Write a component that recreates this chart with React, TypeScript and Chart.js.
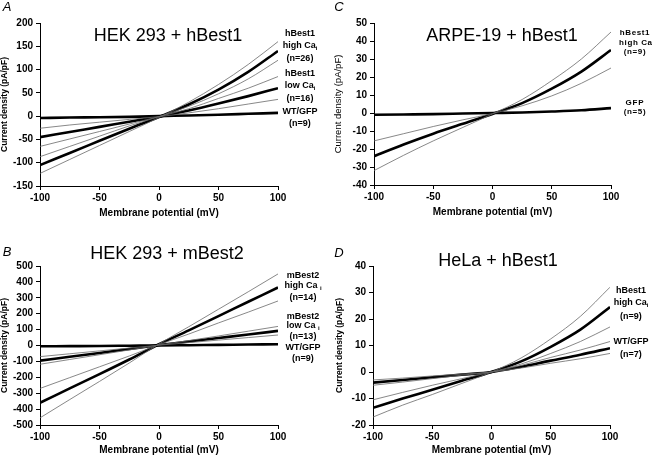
import React, { useEffect, useRef } from "react";
import { Chart, registerables } from "chart.js";

Chart.register(...registerables);

// Membrane potential sample points (mV)
const potentials = [-100, -75, -50, -25, 0, 25, 50, 75, 100];

// Panel A: HEK 293 + hBest1 (pA/pF)
const aHighMean = [-105, -79, -53, -27, -2, 25, 57, 95, 140];
const aHighOuter = [-123, -93, -63, -33, -3, 30, 68, 111, 160];
const aHighInner = [-87, -65, -43, -21, -1, 21, 48, 80, 120];
const aLowMean = [-45, -34, -23, -12, -1, 12, 27, 43, 60];
const aLowOuter = [-65, -49, -33, -17, -1, 16, 38, 60, 85];
const aLowInner = [-26, -19, -13, -7, -1, 7, 16, 26, 36];
const aWT = [-4, -3, -2.5, -1.5, 0, 1.5, 3, 5, 7];

// Panel B: HEK 293 + mBest2
const bHighMean = [-360, -270, -180, -88, 8, 95, 185, 275, 365];
const bHighOuter = [-455, -340, -226, -110, 10, 118, 228, 338, 450];
const bHighInner = [-270, -202, -134, -66, 6, 72, 142, 210, 280];
const bLowMean = [-95, -71, -47, -22, 3, 25, 47, 69, 92];
const bLowOuter = [-118, -88, -58, -28, 3, 31, 60, 90, 120];
const bLowInner = [-70, -52, -34, -16, 2, 18, 34, 50, 66];
const bWT = [-5, -4, -3, -1.5, 0, 2, 4, 6, 8];

// Panel C: ARPE-19 + hBest1
const cHighMean = [-24, -17.5, -11.5, -6, -0.5, 5.5, 13.5, 23, 35];
const cHighOuter = [-32, -23.5, -15.5, -8, -0.5, 7.5, 18, 30, 45];
const cHighInner = [-15.5, -11.5, -7.5, -3.8, -0.3, 4, 9.5, 16.5, 25];
const cGFP = [-1, -0.8, -0.6, -0.3, 0, 0.3, 0.8, 1.5, 2.7];

// Panel D: HeLa + hBest1
const dHighMean = [-13.5, -10, -6.7, -3.3, 0, 4, 9.5, 16, 24.5];
const dHighOuter = [-17, -12.5, -8.5, -4.3, 0, 5.3, 12.5, 21, 32];
const dHighInner = [-10.5, -7.7, -5, -2.5, 0, 3, 7, 11.5, 17];
const dWTMean = [-4, -3, -2, -1, 0, 2, 4.3, 6.5, 9];
const dWTOuter = [-5, -3.8, -2.5, -1.2, 0, 2.5, 5.5, 8.3, 11.5];
const dWTInner = [-3, -2.3, -1.5, -0.8, 0, 1.5, 3.3, 5, 7];

const FONT = "'Liberation Sans', Arial, sans-serif";

type Series = { values: number[]; thick: boolean };

type PanelProps = {
  box: { left: number; top: number; width: number; height: number };
  area: { l: number; r: number; t: number; b: number };
  yMin: number;
  yMax: number;
  yStep: number;
  series: Series[];
  xH: number;
  xTitlePad: number;
  yTitlePad: number;
  yTitleBold: boolean;
  yTitleSize: number;
};

function Panel(p: PanelProps) {
  const ref = useRef<HTMLCanvasElement>(null);
  useEffect(() => {
    const canvas = ref.current!;
    const yW = p.area.l - p.box.left;
    const thin = p.series.filter((s) => !s.thick);
    const thick = p.series.filter((s) => s.thick);
    const toDs = (s: Series) => ({
      data: potentials.map((x, i) => ({ x, y: s.values[i] })),
      borderColor: s.thick ? "#000" : "#6a6a6a",
      borderWidth: s.thick ? 2.6 : 0.8,
      pointRadius: 0,
      cubicInterpolationMode: "monotone" as const,
      fill: false,
    });
    const tickFont = { family: FONT, size: 10, weight: "bold" as const };
    const chart = new Chart(canvas, {
      type: "line",
      data: { datasets: [...thin.map(toDs), ...thick.map(toDs)] },
      options: {
        animation: false,
        responsive: false,
        events: [],
        layout: {
          padding: {
            left: 0,
            top: p.area.t - p.box.top,
            right: p.box.left + p.box.width - p.area.r,
            bottom: p.box.top + p.box.height - p.area.b - p.xH,
          },
        },
        plugins: { legend: { display: false }, tooltip: { enabled: false } },
        scales: {
          x: {
            type: "linear",
            min: -100,
            max: 100,
            ticks: { stepSize: 50, font: tickFont, color: "#000", padding: 2, maxRotation: 0 },
            grid: { drawOnChartArea: false, drawTicks: true, tickLength: 4, color: "#000" },
            border: { color: "#000", width: 1 },
            title: {
              display: true,
              text: "Membrane potential (mV)",
              color: "#000",
              font: { family: FONT, size: 10, weight: "bold" },
              padding: { top: 0, bottom: p.xTitlePad },
            },
            afterFit: (s: any) => {
              s.height = p.xH;
            },
          },
          y: {
            min: p.yMin,
            max: p.yMax,
            ticks: { stepSize: p.yStep, font: tickFont, color: "#000", padding: 3 },
            grid: { drawOnChartArea: false, drawTicks: true, tickLength: 4, color: "#000" },
            border: { color: "#000", width: 1 },
            title: {
              display: true,
              text: "Current density (pA/pF)",
              color: "#000",
              font: { family: FONT, size: p.yTitleSize, weight: p.yTitleBold ? "bold" : "normal" },
              padding: { top: p.yTitlePad, bottom: 0 },
            },
            afterFit: (s: any) => {
              s.width = yW;
            },
          },
        },
      },
    });
    return () => chart.destroy();
  }, []);
  return (
    <canvas
      ref={ref}
      width={p.box.width}
      height={p.box.height}
      style={{ position: "absolute", left: p.box.left, top: p.box.top, width: p.box.width, height: p.box.height }}
    />
  );
}

const abs = (x: number, y: number, style: React.CSSProperties = {}): React.CSSProperties => ({
  position: "absolute",
  left: x,
  top: y,
  transform: "translate(-50%, -50%)",
  whiteSpace: "nowrap",
  fontFamily: FONT,
  color: "#000",
  lineHeight: 1,
  ...style,
});

const sideStyle: React.CSSProperties = { fontSize: 9, fontWeight: "bold", textAlign: "center" };
const sub = (t: string) => <sub style={{ fontSize: 6, verticalAlign: "-2px" }}>{t}</sub>;

export default function App() {
  return (
    <div style={{ position: "fixed", left: 0, top: 0, width: 653, height: 458, background: "#fff", overflow: "hidden" }}>
      <Panel
        box={{ left: 0, top: 0, width: 323, height: 228 }}
        area={{ l: 40, r: 278, t: 23, b: 186 }}
        yMin={-150}
        yMax={200}
        yStep={50}
        series={[
          { values: aHighOuter, thick: false },
          { values: aHighInner, thick: false },
          { values: aLowOuter, thick: false },
          { values: aLowInner, thick: false },
          { values: aHighMean, thick: true },
          { values: aLowMean, thick: true },
          { values: aWT, thick: true },
        ]}
        xH={36}
        xTitlePad={3}
        yTitlePad={0}
        yTitleBold={true}
        yTitleSize={8.5}
      />
      <Panel
        box={{ left: 0, top: 228, width: 323, height: 230 }}
        area={{ l: 40, r: 278, t: 266, b: 425 }}
        yMin={-500}
        yMax={500}
        yStep={100}
        series={[
          { values: bHighOuter, thick: false },
          { values: bHighInner, thick: false },
          { values: bLowOuter, thick: false },
          { values: bLowInner, thick: false },
          { values: bHighMean, thick: true },
          { values: bLowMean, thick: true },
          { values: bWT, thick: true },
        ]}
        xH={31}
        xTitlePad={0}
        yTitlePad={0}
        yTitleBold={true}
        yTitleSize={8.5}
      />
      <Panel
        box={{ left: 323, top: 0, width: 330, height: 228 }}
        area={{ l: 374, r: 611, t: 23, b: 185 }}
        yMin={-40}
        yMax={50}
        yStep={10}
        series={[
          { values: cHighOuter, thick: false },
          { values: cHighInner, thick: false },
          { values: cHighMean, thick: true },
          { values: cGFP, thick: true },
        ]}
        xH={36}
        xTitlePad={3}
        yTitlePad={10}
        yTitleBold={false}
        yTitleSize={9.5}
      />
      <Panel
        box={{ left: 323, top: 228, width: 330, height: 230 }}
        area={{ l: 373, r: 610, t: 266, b: 425 }}
        yMin={-20}
        yMax={40}
        yStep={10}
        series={[
          { values: dHighOuter, thick: false },
          { values: dHighInner, thick: false },
          { values: dWTOuter, thick: false },
          { values: dWTInner, thick: false },
          { values: dHighMean, thick: true },
          { values: dWTMean, thick: true },
        ]}
        xH={31}
        xTitlePad={0}
        yTitlePad={12}
        yTitleBold={true}
        yTitleSize={8.5}
      />

      {/* panel letters */}
      <div style={abs(7, 6, { fontSize: 13, fontStyle: "italic" })}>A</div>
      <div style={abs(7, 251, { fontSize: 13, fontStyle: "italic" })}>B</div>
      <div style={abs(339, 6, { fontSize: 13, fontStyle: "italic" })}>C</div>
      <div style={abs(339, 252, { fontSize: 13, fontStyle: "italic" })}>D</div>

      {/* panel titles */}
      <div style={abs(168, 35, { fontSize: 18 })}>HEK 293 + hBest1</div>
      <div style={abs(167, 253, { fontSize: 18 })}>HEK 293 + mBest2</div>
      <div style={abs(502, 35, { fontSize: 18 })}>ARPE-19 + hBest1</div>
      <div style={abs(498, 260, { fontSize: 18 })}>HeLa + hBest1</div>

      {/* panel A labels */}
      <div style={abs(300, 33, sideStyle)}>hBest1</div>
      <div style={abs(300, 46, sideStyle)}>high Ca{sub("i")}</div>
      <div style={abs(300, 58, sideStyle)}>(n=26)</div>
      <div style={abs(300, 73, sideStyle)}>hBest1</div>
      <div style={abs(300, 86, sideStyle)}>low Ca{sub("i")}</div>
      <div style={abs(300, 98, sideStyle)}>(n=16)</div>
      <div style={abs(300, 111, sideStyle)}>WT/GFP</div>
      <div style={abs(300, 123, sideStyle)}>(n=9)</div>

      {/* panel B labels */}
      <div style={abs(303, 275, sideStyle)}>mBest2</div>
      <div style={abs(303, 286, sideStyle)}>high Ca {sub("i")}</div>
      <div style={abs(303, 297, sideStyle)}>(n=14)</div>
      <div style={abs(303, 316, sideStyle)}>mBest2</div>
      <div style={abs(303, 326, sideStyle)}>low Ca {sub("i")}</div>
      <div style={abs(303, 336, sideStyle)}>(n=13)</div>
      <div style={abs(303, 347, sideStyle)}>WT/GFP</div>
      <div style={abs(303, 358, sideStyle)}>(n=9)</div>

      {/* panel C labels */}
      <div style={abs(635, 33, { ...sideStyle, fontSize: 8, letterSpacing: 0.6 })}>hBest1</div>
      <div style={abs(637, 43, { ...sideStyle, fontSize: 8, letterSpacing: 0.6 })}>high Ca{sub("i")}</div>
      <div style={abs(635, 52, { ...sideStyle, fontSize: 8, letterSpacing: 0.6 })}>(n=9)</div>
      <div style={abs(635, 103, { ...sideStyle, fontSize: 8, letterSpacing: 0.8 })}>GFP</div>
      <div style={abs(635, 112, { ...sideStyle, fontSize: 8, letterSpacing: 0.6 })}>(n=5)</div>

      {/* panel D labels */}
      <div style={abs(631, 290, sideStyle)}>hBest1</div>
      <div style={abs(631, 303, sideStyle)}>high Ca{sub("i")}</div>
      <div style={abs(631, 316, sideStyle)}>(n=9)</div>
      <div style={abs(631, 341, sideStyle)}>WT/GFP</div>
      <div style={abs(631, 354, sideStyle)}>(n=7)</div>
    </div>
  );
}
